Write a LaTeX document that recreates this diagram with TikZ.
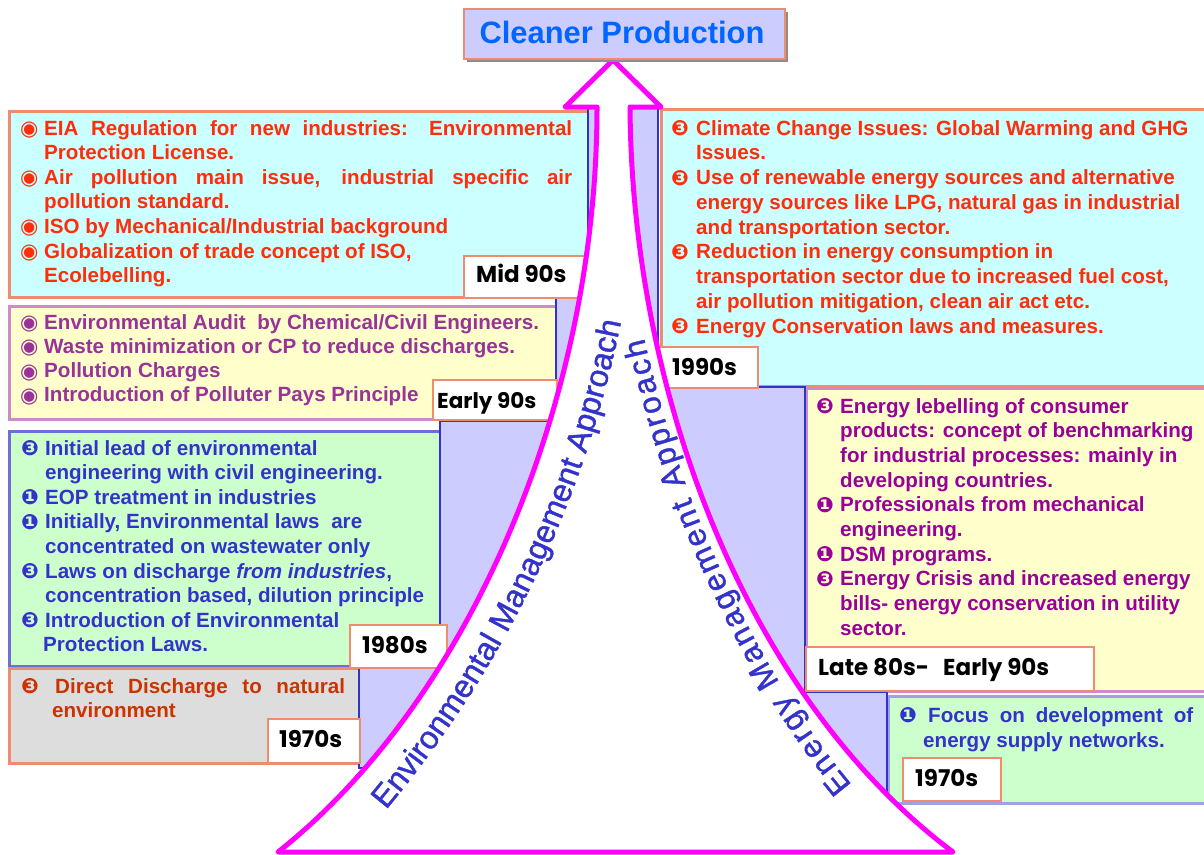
\documentclass[tikz,border=0pt]{standalone}
\usepackage{fontspec}
\setmainfont{Liberation Sans}
\newfontfamily\dejavu{DejaVu Sans}
\newfontfamily\lblfont{Poppins}
\newfontfamily\curvefont{Liberation Sans}[FakeBold=1.2]
\usetikzlibrary{decorations.text}

\definecolor{cyanbg}{RGB}{204,255,255}
\definecolor{yellowbg}{RGB}{255,255,204}
\definecolor{greenbg}{RGB}{204,255,204}
\definecolor{graybg}{RGB}{221,221,221}
\definecolor{salmon}{RGB}{240,140,110}
\definecolor{mauve}{RGB}{205,140,200}
\definecolor{bluebd}{RGB}{110,110,215}
\definecolor{lightbd}{RGB}{160,160,230}
\definecolor{redtx}{RGB}{255,45,10}
\definecolor{purptx}{RGB}{153,51,153}
\definecolor{purptwo}{RGB}{153,0,153}
\definecolor{bluetx}{RGB}{51,51,204}
\definecolor{brtx}{RGB}{204,51,0}
\definecolor{lav}{RGB}{204,204,255}
\definecolor{stepblue}{RGB}{51,51,204}
\definecolor{mag}{RGB}{255,0,255}
\definecolor{titletx}{RGB}{0,102,255}

\newcommand\bodyfont[1]{\fontsize{20.6}{#1}\selectfont\bfseries}
\newcommand\bu[2][24pt]{\makebox[#1][l]{\dejavu\fontsize{21}{21}\selectfont\raisebox{-0.5pt}{#2}}}
\newcommand\ind[1][24pt]{\hspace*{#1}}
\newcommand\cvf{\curvefont\fontsize{32}{32}\selectfont}
\newcommand\cvg{\curvefont\fontsize{31.5}{32}\selectfont}

\tikzset{
  infobox/.style={anchor=north west, inner sep=0, line width=2.5pt},
  lblbox/.style={anchor=north west, inner sep=0, draw=salmon, fill=white, line width=2pt},
  lbltext/.style={anchor=base west, inner sep=0, font=\lblfont\bfseries\fontsize{23}{23}\selectfont},
  bodytext/.style={anchor=base west, inner sep=0},
}

\begin{document}
\begin{tikzpicture}[x=1pt,y=1pt]
\useasboundingbox (0,0) rectangle (1204,-854);
\fill[white] (0,0) rectangle (1204,-854);

% information boxes
\node[infobox, fill=cyanbg, draw=salmon, minimum width=580, minimum height=186] (bmid) at (8,-110) {};
\node[infobox, fill=yellowbg, draw=mauve, minimum width=548, minimum height=113] (bearly) at (8,-305) {};
\node[infobox, fill=greenbg, draw=bluebd, minimum width=432, minimum height=235] (beighty) at (8,-430) {};
\node[infobox, fill=graybg, draw=salmon, minimum width=351, minimum height=95] (bseventy) at (8,-667) {};
\node[infobox, fill=cyanbg, draw=salmon, minimum width=555, minimum height=277] (bninety) at (660,-108) {};
\node[infobox, fill=yellowbg, draw=mauve, minimum width=410, minimum height=303] (blate) at (805,-387) {};
\node[infobox, fill=greenbg, draw=lightbd, minimum width=328, minimum height=107] (bseventyr) at (887,-695) {};

% stepped background
\path[draw=stepblue, fill=lav, line width=2.5pt, line join=miter]
  (588,-105) -- (588,-297) -- (556,-297) -- (556,-421) -- (440,-421) -- (440,-666)
  -- (359,-666) -- (359,-768) -- (620,-768) -- (620,-802) -- (887,-802) -- (887,-692)
  -- (805,-692) -- (805,-387) -- (658,-387) -- (658,-105) -- cycle;

% period labels
\node[lblbox, minimum width=124, minimum height=42] (lmid) at (463,-255) {};
\node[lblbox, minimum width=124, minimum height=40] (learly) at (432,-379) {};
\node[lblbox, minimum width=97, minimum height=43] (leighty) at (349,-624) {};
\node[lblbox, minimum width=92, minimum height=44] (lseventy) at (267,-718) {};
\node[lblbox, minimum width=99, minimum height=41] (lninety) at (658,-346) {};
\node[lblbox, minimum width=288, minimum height=44] (llate) at (805,-646) {};
\node[lblbox, minimum width=98, minimum height=43] (lseventyr) at (902,-757) {};

\node[lbltext] (tmidl) at (476,-282.7) {Mid 90s};
\node[lbltext, font=\lblfont\bfseries\fontsize{21.5}{21.5}\selectfont] (tearlyl) at (437,-408) {Early 90s};
\node[lbltext] (teightyl) at (362,-653) {1980s};
\node[lbltext] (tseventyl) at (279,-747) {1970s};
\node[lbltext] (tninetyl) at (672,-375) {1990s};
\node[lbltext] (tlatel) at (818,-675) {Late 80s-\hspace{14pt}Early 90s};
\node[lbltext] (tseventyrl) at (915,-786) {1970s};

% box texts
\node[bodytext, text=redtx] (tmid) at (20,-135) {\parbox[t]{700pt}{\bodyfont{24.6}%
\bu{◉}\makebox[528pt][s]{EIA Regulation for new industries: Environmental}\\
\ind Protection License.\\
\bu{◉}\makebox[528pt][s]{Air pollution main issue, industrial specific air}\\
\ind pollution standard.\\
\bu{◉}ISO by Mechanical/Industrial background\\
\bu{◉}Globalization of trade concept of ISO,\\
\ind Ecolebelling.}};

\node[bodytext, text=purptx] (tearly) at (20,-329) {\parbox[t]{700pt}{\bodyfont{24.3}%
\bu{◉}Environmental Audit\hspace{6pt} by Chemical/Civil Engineers.\\
\bu{◉}Waste minimization or CP to reduce discharges.\\
\bu{◉}Pollution Charges\\
\bu{◉}Introduction of Polluter Pays Principle}};

\node[bodytext, text=bluetx] (teighty) at (21,-455) {\parbox[t]{700pt}{\bodyfont{24.6}%
\bu[24pt]{❸}Initial lead of environmental\\
\ind[24pt]engineering with civil engineering.\\
\bu[24pt]{❶}EOP treatment in industries\\
\bu[24pt]{❶}Initially, Environmental laws\hspace{6pt} are\\
\ind[24pt]concentrated on wastewater only\\
\bu[24pt]{❸}Laws on discharge \textit{from industries},\\
\ind[24pt]concentration based, dilution principle\\
\bu[24pt]{❸}Introduction of Environmental\\
\ind[22pt]Protection Laws.}};

\node[bodytext, text=brtx] (tseventy) at (21,-693) {\parbox[t]{700pt}{\bodyfont{24}%
\bu[34pt]{❸}\makebox[290pt][s]{Direct Discharge to natural}\\
\ind[31pt]environment}};

\node[bodytext, text=redtx] (tninety) at (671,-135) {\parbox[t]{700pt}{\bodyfont{24.75}%
\bu[25pt]{❸}Climate Change Issues: Global Warming and GHG\\
\ind[25pt]Issues.\\
\bu[25pt]{❸}Use of renewable energy sources and alternative\\
\ind[25pt]energy sources like LPG, natural gas in industrial\\
\ind[25pt]and transportation sector.\\
\bu[25pt]{❸}Reduction in energy consumption in\\
\ind[25pt]transportation sector due to increased fuel cost,\\
\ind[25pt]air pollution mitigation, clean air act etc.\\
\bu[25pt]{❸}Energy Conservation laws and measures.}};

\node[bodytext, text=purptwo] (tlate) at (816,-413) {\parbox[t]{700pt}{\bodyfont{24.67}%
\bu[24pt]{❸}Energy lebelling of consumer\\
\ind[24pt]products: concept of benchmarking\\
\ind[24pt]for industrial processes: mainly in\\
\ind[24pt]developing countries.\\
\bu[24pt]{❶}Professionals from mechanical\\
\ind[24pt]engineering.\\
\bu[24pt]{❶}DSM programs.\\
\bu[24pt]{❸}Energy Crisis and increased energy\\
\ind[24pt]bills- energy conservation in utility\\
\ind[24pt]sector.}};

\node[bodytext, text=bluetx] (tseventyr) at (899,-722) {\parbox[t]{700pt}{\bodyfont{25}%
\bu[29pt]{❶}\makebox[265pt][s]{Focus on development of}\\
\ind[24pt]energy supply networks.}};

% main arrow
\path[draw=mag, fill=white, line width=5pt, line join=round]
  (613,-60) -- (661,-107) -- (630,-107)
  .. controls (632,-400) and (750,-700) .. (953,-852)
  -- (278,-852)
  .. controls (470,-700) and (597,-400) .. (597,-107)
  -- (565,-107) -- cycle;

% curved labels
\path[decorate, decoration={text along path, text align={fit to path}, text color=bluetx,
  text={|\cvf|Environmental Management Approach}}]
  (386,-810) .. controls (503,-669) and (584,-505) .. (621,-322);
\path[decorate, decoration={text along path, text align={fit to path}, text color=bluetx,
  text={|\cvg|Energy Management Approach}}]
  (852,-785) .. controls (790.6,-711.1) and (743.2,-624.7) .. (705.9,-536.3)
  .. controls (679.1,-472.8) and (659.5,-405.3) .. (644,-338);

% title
\node[anchor=north west, inner sep=0, fill=black!45, minimum width=321, minimum height=50] (tshadow) at (467,-12) {};
\node[anchor=north west, inner sep=0, draw=salmon, fill=lav, line width=1.5pt, minimum width=321, minimum height=50] (title) at (463,-8) {};
\node[anchor=base, inner sep=0, text=titletx, font=\bfseries\fontsize{30.9}{31}\selectfont] (titletext) at (622,-43) {Cleaner Production};
\end{tikzpicture}
\end{document}
